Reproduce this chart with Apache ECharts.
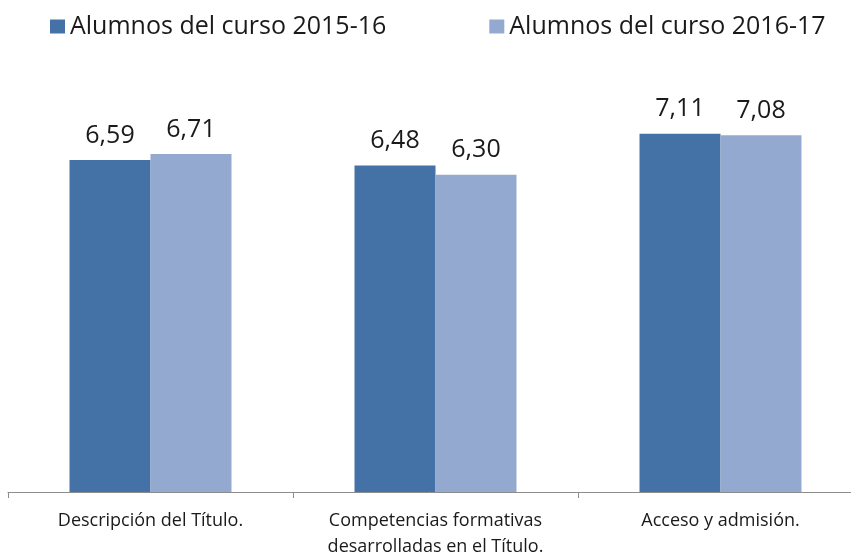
<!DOCTYPE html>
<html>
<head>
<meta charset="utf-8">
<script src="https://cdn.jsdelivr.net/npm/echarts@6/dist/echarts.min.js"></script>
<style>
  html, body { margin: 0; padding: 0; background: #fff; }
  #chart { width: 851px; height: 555px; }
</style>
</head>
<body>
<div id="chart"></div>
<script>
const categories = ['Descripción del Título.', 'Competencias formativas\ndesarrolladas en el Título.', 'Acceso y admisión.']
const seriesNames = ['Alumnos del curso 2015-16', 'Alumnos del curso 2016-17']
const values2015 = [6.59, 6.48, 7.11]
const values2016 = [6.71, 6.30, 7.08]
const colors = ['#4472A6', '#93A9D0']

const font = '"Open Sans", sans-serif'

const chart = echarts.init(document.getElementById('chart'))

const makeSeries = (name, data, color) => ({
  name,
  type: 'bar',
  data,
  barWidth: 81,
  barGap: '0%',
  itemStyle: { color },
  label: {
    show: true,
    position: 'top',
    distance: 12,
    color: '#1a1a1a',
    fontFamily: font,
    fontSize: 25,
    formatter: (p) => p.value.toFixed(2).replace('.', ','),
  },
})

chart.setOption({
  animation: false,
  legend: {
    top: 9,
    left: 45,
    itemWidth: 15,
    itemHeight: 14,
    itemGap: 103,
    icon: 'rect',
    textStyle: { fontFamily: font, fontSize: 25, color: '#1a1a1a' },
    data: seriesNames,
  },
  grid: { left: 8, width: 855, top: 89, bottom: 63, outerBoundsMode: 'none' },
  xAxis: {
    type: 'category',
    data: categories,
    axisLine: { lineStyle: { color: '#8c8c8c', width: 1 } },
    axisTick: { show: true, length: 6, lineStyle: { color: '#8c8c8c' } },
    axisLabel: {
      color: '#1a1a1a',
      fontFamily: font,
      fontSize: 18,
      lineHeight: 26,
      margin: 16,
      interval: 0,
    },
  },
  yAxis: {
    type: 'value',
    min: 0,
    max: 8,
    show: false,
  },
  series: [
    makeSeries(seriesNames[0], values2015, colors[0]),
    makeSeries(seriesNames[1], values2016, colors[1]),
  ],
})
</script>
</body>
</html>
